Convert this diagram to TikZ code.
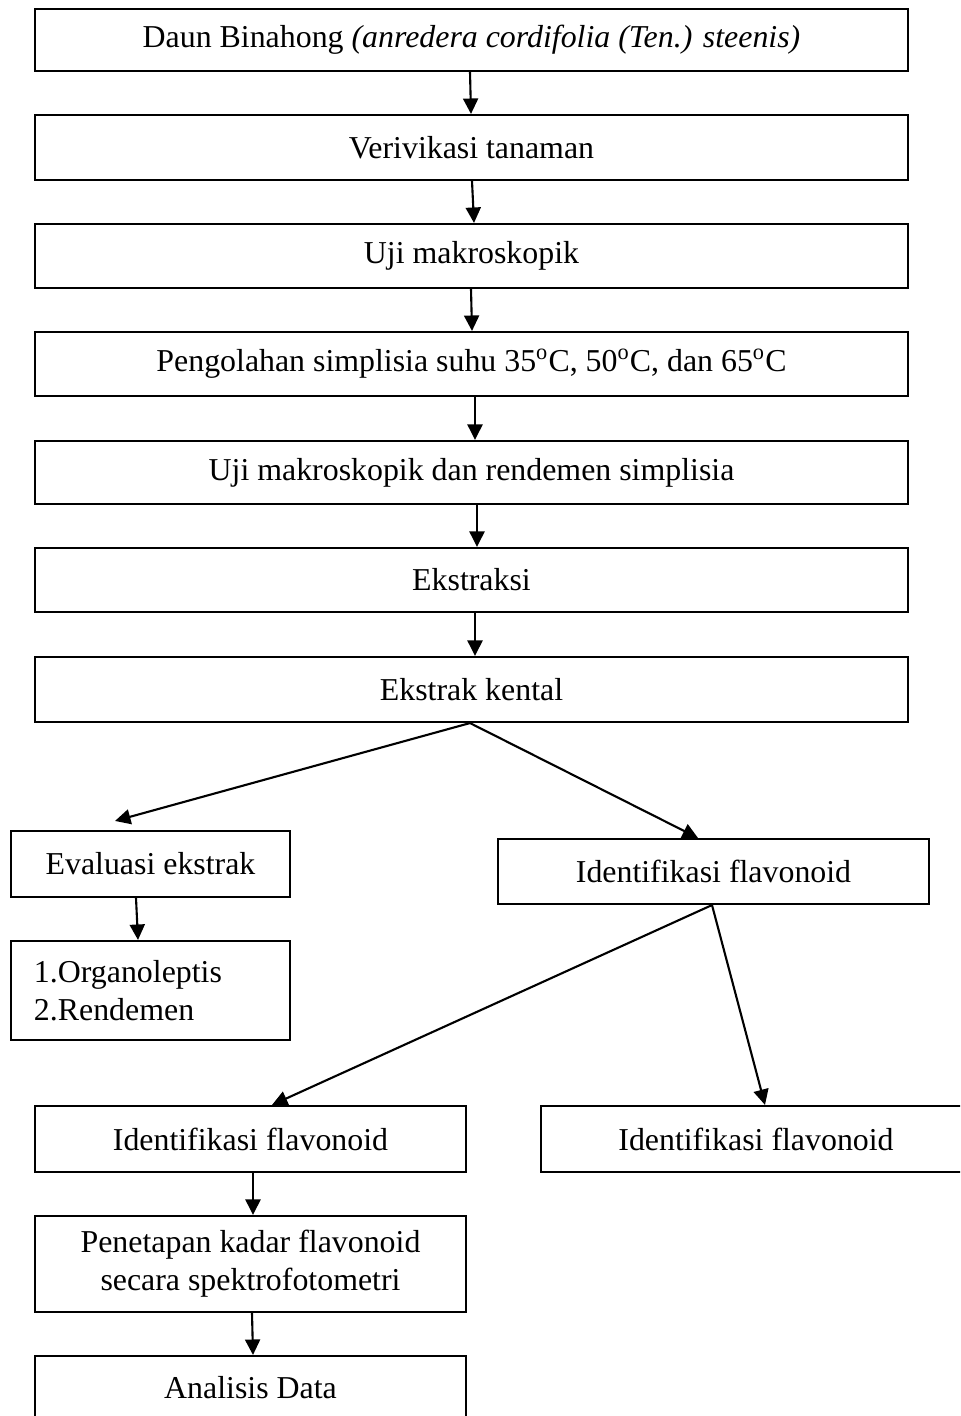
\documentclass[tikz,border=0pt]{standalone}
\usepackage{fontspec}
\setmainfont{Liberation Serif}
\usepackage{tikz}
\usetikzlibrary{arrows.meta,calc}

\begin{document}
\begin{tikzpicture}[x=0.015cm,y=-0.015cm]
\tikzstyle{box}=[draw,line width=0.9pt,shape=rectangle,inner sep=0pt,font=\fontsize{13.6}{16.3}\selectfont];
\tikzstyle{arr}=[line width=0.9pt,-{Triangle[length=6.6pt,width=6.4pt]}];
\useasboundingbox (0,0) rectangle (960,1416);
\clip (0,0) rectangle (960,1416);
\node[box,minimum width=873*0.015cm,minimum height=62*0.015cm] (daun) at (471.5,40) {Daun Binahong \textit{(anredera cordifolia (Ten.) steenis)}};
\node[box,minimum width=873*0.015cm,minimum height=65*0.015cm] (verif) at (471.5,147.5) {Verivikasi tanaman};
\node[box,minimum width=873*0.015cm,minimum height=64*0.015cm] (makro) at (471.5,256) {Uji makroskopik};
\node[box,minimum width=873*0.015cm,minimum height=64*0.015cm] (olah) at (471.5,364) {Pengolahan simplisia suhu 35\textsuperscript{o}C, 50\textsuperscript{o}C, dan 65\textsuperscript{o}C};
\node[box,minimum width=873*0.015cm,minimum height=63*0.015cm] (rendemen) at (471.5,472.5) {Uji makroskopik dan rendemen simplisia};
\node[box,minimum width=873*0.015cm,minimum height=64*0.015cm] (ekstraksi) at (471.5,580) {Ekstraksi};
\node[box,minimum width=873*0.015cm,minimum height=65*0.015cm] (kental) at (471.5,689.5) {Ekstrak kental};
\node[box,minimum width=279*0.015cm,minimum height=66*0.015cm] (evaluasi) at (150.5,864) {Evaluasi ekstrak};
\node[box,minimum width=431*0.015cm,minimum height=65*0.015cm] (identif) at (713.5,871.5) {Identifikasi flavonoid};
\node[box,text width=233*0.015cm,inner xsep=23*0.015cm,minimum height=99*0.015cm,align=left] (hasil) at (150.5,990.5) {1.Organoleptis\\2.Rendemen};
\node[box,minimum width=431*0.015cm,minimum height=66*0.015cm] (identkiri) at (250.5,1139) {Identifikasi flavonoid};
\node[box,minimum width=430*0.015cm,minimum height=66*0.015cm] (identkanan) at (756,1139) {Identifikasi flavonoid};
\node[box,minimum width=431*0.015cm,minimum height=96*0.015cm,align=center] (kadar) at (250.5,1264) {Penetapan kadar flavonoid\\secara spektrofotometri};
\node[box,minimum width=431*0.015cm,minimum height=64*0.015cm] (analisis) at (250.5,1388) {Analisis Data};

\draw[arr] ($(daun.south)+(-1.5,0)$) -- ($(verif.north)+(-0.5,0)$);
\draw[arr] ($(verif.south)+(0.5,0)$) -- ($(makro.north)+(2.5,0)$);
\draw[arr] ($(makro.south)+(-0.5,0)$) -- ($(olah.north)+(0.5,0)$);
\draw[arr] ($(olah.south)+(3.5,0)$) -- ($(rendemen.north)+(3.5,0)$);
\draw[arr] ($(rendemen.south)+(5.5,0)$) -- ($(ekstraksi.north)+(5.5,0)$);
\draw[arr] ($(ekstraksi.south)+(3.5,0)$) -- ($(kental.north)+(3.5,0)$);
\draw[arr] ($(kental.south)+(-1.5,0)$) -- ($(evaluasi.north)+(-35.5,-9)$);
\draw[arr] ($(kental.south)+(-1.5,0)$) -- ($(identif.north)+(-15.5,0)$);
\draw[arr] ($(evaluasi.south)+(-14.5,0)$) -- ($(hasil.north)+(-12.5,0)$);
\draw[arr] ($(identif.south)+(-1.5,0)$) -- ($(identkiri.north)+(21.5,0)$);
\draw[arr] ($(identif.south)+(-1.5,0)$) -- ($(identkanan.north)+(9,0)$);
\draw[arr] ($(identkiri.south)+(2.5,0)$) -- ($(kadar.north)+(2.5,0)$);
\draw[arr] ($(kadar.south)+(1.5,0)$) -- ($(analisis.north)+(2.5,0)$);
\end{tikzpicture}
\end{document}
